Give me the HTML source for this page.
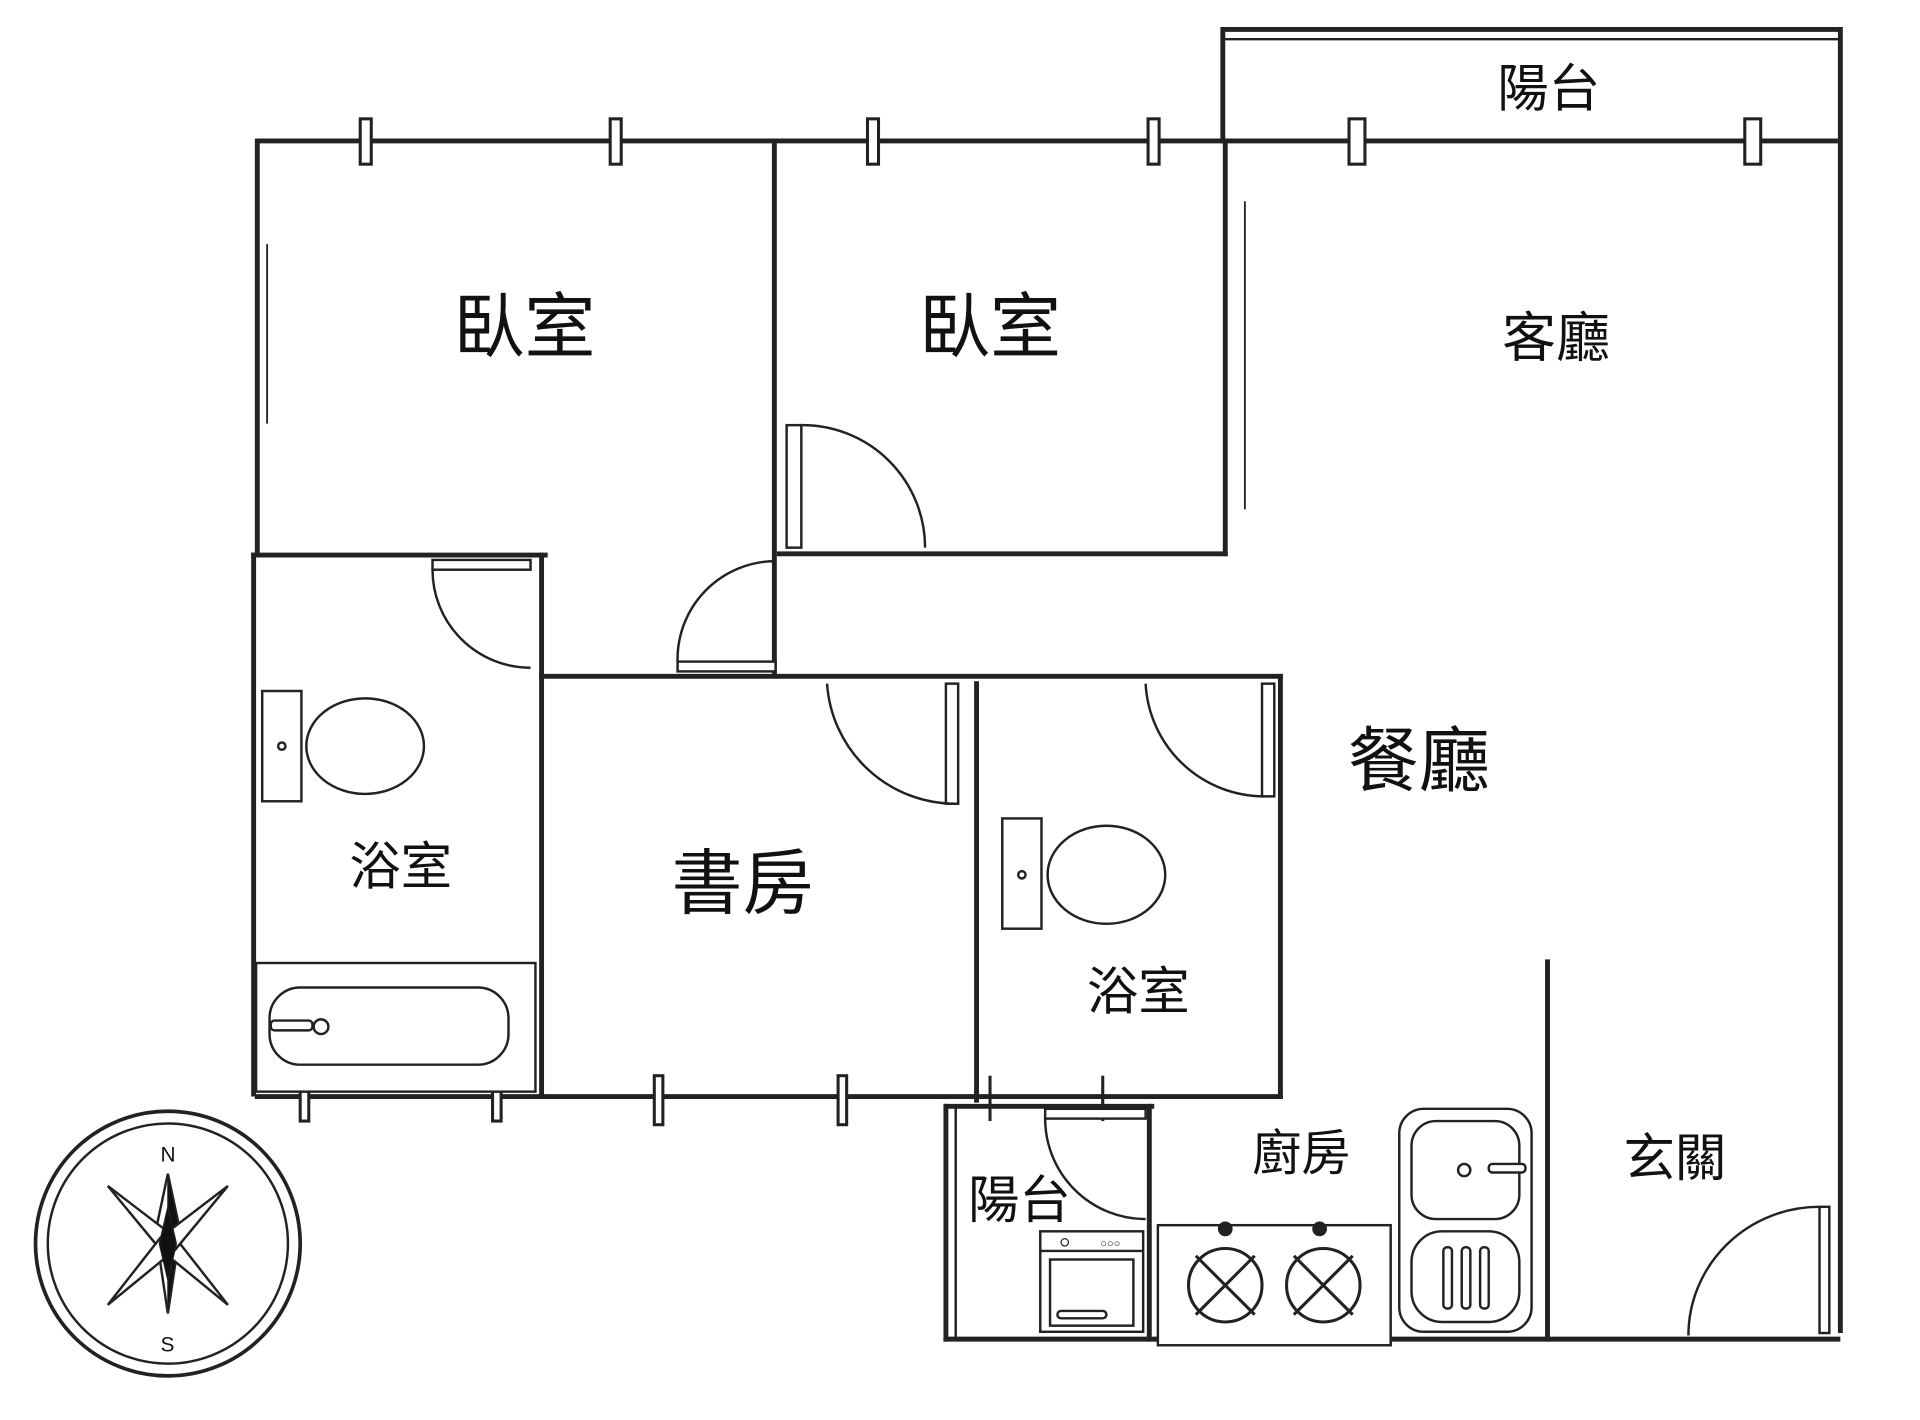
<!DOCTYPE html>
<html><head><meta charset="utf-8"><style>
html,body{margin:0;padding:0;background:#fff}
svg{display:block}
text{font-family:"Liberation Sans","Noto Sans CJK TC",sans-serif;fill:#111}
</style></head><body>
<svg width="1920" height="1420" viewBox="0 0 1567 1159" preserveAspectRatio="none" xmlns="http://www.w3.org/2000/svg">
<g stroke="#222" fill="none" stroke-width="4" stroke-linecap="square">
<polyline points="998,115 998,24 1502,24 1502,1086"/>
<line x1="1000" y1="32" x2="1500" y2="32" stroke-width="2"/>
<line x1="210" y1="115" x2="1498" y2="115"/>
<line x1="210" y1="118" x2="210" y2="453"/>
<line x1="207" y1="453" x2="207" y2="893"/>
<line x1="218" y1="200" x2="218" y2="345" stroke-width="1.5"/>
<line x1="632" y1="115" x2="632" y2="550"/>
<line x1="1000" y1="115" x2="1000" y2="452"/>
<line x1="1016" y1="165" x2="1016" y2="415" stroke-width="1.5"/>
<line x1="636" y1="452" x2="1000" y2="452"/>
<line x1="207" y1="453" x2="445" y2="453"/>
<line x1="442" y1="453" x2="442" y2="893"/>
<line x1="442" y1="552" x2="1045" y2="552"/>
<line x1="797" y1="558" x2="797" y2="898"/>
<line x1="1045" y1="552" x2="1045" y2="895"/>
<line x1="210" y1="895" x2="1045" y2="895"/>
<line x1="772" y1="903" x2="772" y2="1093"/>
<line x1="780" y1="905" x2="780" y2="1093" stroke-width="2"/>
<line x1="772" y1="903" x2="940" y2="903"/>
<line x1="938" y1="903" x2="938" y2="1093"/>
<line x1="772" y1="1093" x2="1500" y2="1093"/>
<line x1="1263" y1="785" x2="1263" y2="1093"/>
</g>
<g stroke="#222" fill="#fff" stroke-width="2.5">
<rect x="294" y="97" width="9" height="37"/>
<rect x="498" y="97" width="9" height="37"/>
<rect x="708" y="97" width="9" height="37"/>
<rect x="937" y="97" width="9" height="37"/>
<rect x="1101" y="97" width="13" height="37"/>
<rect x="1424" y="97" width="13" height="37"/>
<rect x="245" y="878" width="7" height="37"/>
<rect x="402" y="878" width="7" height="37"/>
<rect x="534" y="878" width="7" height="40"/>
<rect x="684" y="878" width="7" height="40"/>
<line x1="808" y1="878" x2="808" y2="915"/>
<line x1="900" y1="878" x2="900" y2="915"/>
</g>
<g stroke="#222" fill="none" stroke-width="2">
<rect x="642" y="347" width="12" height="100" fill="#fff"/>
<path d="M654,347 A100,100 0 0 1 755,447"/>
<rect x="553" y="540" width="80" height="8" fill="#fff"/>
<path d="M553,540 A80,80 0 0 1 633,458"/>
<rect x="353" y="457" width="80" height="8" fill="#fff"/>
<path d="M353,465 A80,80 0 0 0 433,545"/>
<rect x="772" y="558" width="10" height="98" fill="#fff"/>
<path d="M675,558 A105,105 0 0 0 780,656"/>
<rect x="1030" y="558" width="10" height="92" fill="#fff"/>
<path d="M935,558 A97,97 0 0 0 1032,650"/>
<rect x="853" y="905" width="82" height="8" fill="#fff"/>
<path d="M853,913 A82,82 0 0 0 935,995"/>
<rect x="1485" y="985" width="8" height="103" fill="#fff"/>
<path d="M1378,1090 A107,105 0 0 1 1485,985"/>
</g>
<g stroke="#222" fill="#fff" stroke-width="2">
<rect x="214" y="564" width="32" height="90"/>
<ellipse cx="298" cy="609" rx="48" ry="39"/>
<circle cx="230" cy="609" r="3"/>
<rect x="818" y="668" width="32" height="90"/>
<ellipse cx="903" cy="714" rx="48" ry="40"/>
<circle cx="834" cy="714" r="3"/>
<rect x="209" y="786" width="228" height="105"/>
<rect x="220" y="806" width="195" height="63" rx="25"/>
<rect x="221" y="833" width="34" height="8" rx="3"/>
<circle cx="262" cy="838" r="6"/>
<rect x="849" y="1005" width="84" height="82"/>
<line x1="849" y1="1021" x2="933" y2="1021"/>
<rect x="857" y="1028" width="68" height="54"/>
<rect x="863" y="1070" width="40" height="6" rx="3"/>
<rect x="945" y="1000" width="190" height="98"/>
<rect x="1142" y="905" width="108" height="182" rx="20"/>
<rect x="1152" y="915" width="88" height="80" rx="20"/>
<rect x="1152" y="1005" width="88" height="74" rx="25"/>
<circle cx="1195" cy="955" r="5"/>
<rect x="1215" y="950" width="30" height="7" rx="3"/>
<rect x="1178" y="1018" width="7" height="50" rx="3"/>
<rect x="1193" y="1018" width="7" height="50" rx="3"/>
<rect x="1208" y="1018" width="7" height="50" rx="3"/>
</g>
<g stroke="#222" fill="none" stroke-width="2.5">
<circle cx="1000" cy="1049" r="30"/><circle cx="1080" cy="1049" r="30"/>
<line x1="976" y1="1025" x2="1024" y2="1073"/><line x1="1024" y1="1025" x2="976" y2="1073"/>
<line x1="1056" y1="1025" x2="1104" y2="1073"/><line x1="1104" y1="1025" x2="1056" y2="1073"/>
</g>
<circle cx="1000" cy="1003" r="6" fill="#222"/><circle cx="1077" cy="1003" r="6" fill="#222"/>
<circle cx="869" cy="1014" r="3" fill="none" stroke="#222"/>
<text x="898" y="1018" font-size="9">○○○</text>
<g stroke="#222" fill="none">
<circle cx="137" cy="1015" r="108" stroke-width="3"/>
<circle cx="137" cy="1015" r="98" stroke-width="2"/>
<polygon points="137,958 147,1005 137,1072 127,1005" fill="#fff" stroke-width="2"/>
<polygon points="137,958 147,1005 137,1072" fill="#111"/>
<polygon points="88,968 143,1010 186,1065 131,1020" fill="#fff" stroke-width="2"/>
<polygon points="186,968 131,1010 88,1065 143,1020" fill="#fff" stroke-width="2"/>
<polygon points="137,985 144,1015 137,1045 130,1015" fill="#111"/>
</g>
<text x="131" y="948" font-size="17">N</text>
<text x="131" y="1103" font-size="17">S</text>
<text x="370" y="287" font-size="58">臥室</text>
<text x="750" y="287" font-size="58">臥室</text>
<text x="1222" y="87" font-size="42">陽台</text>
<text x="1226" y="291" font-size="44">客廳</text>
<text x="1100" y="641" font-size="58">餐廳</text>
<text x="548" y="741" font-size="58">書房</text>
<text x="285" y="722" font-size="42">浴室</text>
<text x="887" y="824" font-size="42">浴室</text>
<text x="790" y="994" font-size="42">陽台</text>
<text x="1022" y="955" font-size="40">廚房</text>
<text x="1325" y="960" font-size="42">玄關</text>
</svg>
</body></html>
